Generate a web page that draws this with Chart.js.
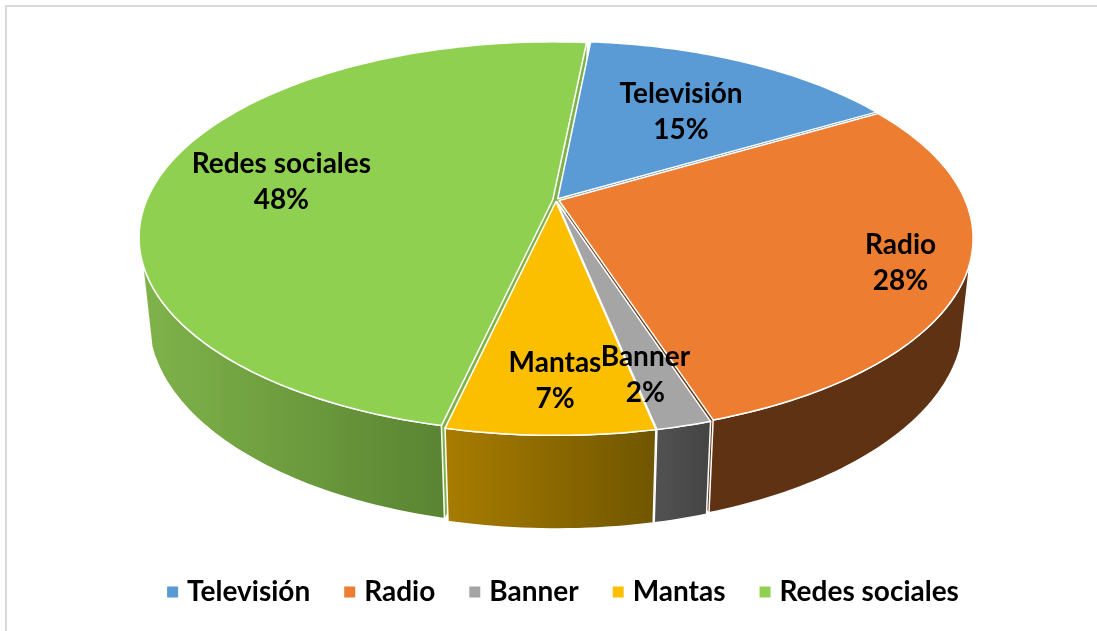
<!DOCTYPE html>
<html>
<head>
<meta charset="utf-8">
<title>Medios</title>
<script src="https://cdn.jsdelivr.net/npm/chart.js@4/dist/chart.umd.js"></script>
<style>
  html, body { margin: 0; background: #fff; }
  canvas { display: block; }
</style>
</head>
<body>
<canvas id="pie3d" width="1097" height="631"></canvas>
<script>
const categories = ['Televisión', 'Radio', 'Banner', 'Mantas', 'Redes sociales'];
const values = [15, 28.45, 1.8, 6.75, 48];
const percentLabels = ['15%', '28%', '2%', '7%', '48%'];

const topColors = ['#5b9bd5', '#ed7d31', '#a5a5a5', '#fcbf00', '#8fd050'];
const wallLeft = ['#3a6d9c', '#5f3214', '#525252', '#a87c00', '#7fb34a'];
const wallRight = ['#3a6d9c', '#5f3214', '#444444', '#705600', '#5a8432'];
// how far out from the center each label sits, 1 = rim
const labelDist = [0.63, 0.855, 0.80, 0.80, 0.70];
// degrees the label is turned away from the slice's middle
const labelTurn = [0, 0, 1.2, -0.5, 0];

const FONT = 'Lato, "Open Sans", sans-serif';
const LABEL_SIZE = 28;

// perspective of the tilted disc
const view = { cx: 556, cy: 200, c: 406, b: 188.3, a: 0.192, h: 0.0222, vx: 556, vy: 3930 };
const EXPLODE = 0.008;

function project(ux, uy, lower) {
  const w = 1 - view.a * uy;
  let x = view.cx + view.c * ux / w;
  let y = view.cy + view.b * uy / w;
  if (lower) {
    const k = view.h / (w + view.h);
    x += (view.vx - x) * k;
    y += (view.vy - y) * k;
  }
  return { x, y };
}

function nudge(arc) {
  const mid = (arc.startAngle + arc.endAngle) / 2;
  return { dx: Math.cos(mid) * EXPLODE, dy: Math.sin(mid) * EXPLODE };
}

function rimPoints(arc, from, to, lower) {
  const { dx, dy } = nudge(arc);
  const pts = [];
  const steps = Math.max(2, Math.ceil((to - from) / 0.02));
  for (let i = 0; i <= steps; i++) {
    const t = from + (to - from) * i / steps;
    pts.push(project(Math.cos(t) + dx, Math.sin(t) + dy, lower));
  }
  return pts;
}

function tracePoly(ctx, pts) {
  ctx.beginPath();
  pts.forEach((p, i) => (i ? ctx.lineTo(p.x, p.y) : ctx.moveTo(p.x, p.y)));
  ctx.closePath();
}

// top face of each slice, still drawn by the library's arc element
Chart.ArcElement.prototype.draw = function (ctx) {
  const { dx, dy } = nudge(this);
  const pts = [project(dx, dy, false)].concat(rimPoints(this, this.startAngle, this.endAngle, false));
  tracePoly(ctx, pts);
  ctx.fillStyle = this.options.backgroundColor;
  ctx.fill();
  ctx.strokeStyle = '#fff';
  ctx.lineWidth = 1.5;
  ctx.lineJoin = 'round';
  ctx.stroke();
};

const walls = {
  id: 'walls',
  beforeDatasetsDraw(chart) {
    const ctx = chart.ctx;
    const arcs = chart.getDatasetMeta(0).data;
    const lo = 18 * Math.PI / 180;
    const hi = 162 * Math.PI / 180;
    ctx.save();
    // cut faces, seen through the gaps between slices
    arcs.forEach((arc, i) => {
      const { dx, dy } = nudge(arc);
      [arc.startAngle, arc.endAngle].forEach(t => {
        const ux = Math.cos(t) + dx, uy = Math.sin(t) + dy;
        tracePoly(ctx, [project(dx, dy, false), project(ux, uy, false), project(ux, uy, true), project(dx, dy, true)]);
        ctx.fillStyle = wallLeft[i];
        ctx.fill();
      });
    });
    // outer walls, front half only
    arcs.forEach((arc, i) => {
      const from = Math.max(arc.startAngle, lo);
      const to = Math.min(arc.endAngle, hi);
      if (from >= to) return;
      const upper = rimPoints(arc, from, to, false);
      const lower = rimPoints(arc, from, to, true);
      const xs = upper.concat(lower).map(p => p.x);
      const g = ctx.createLinearGradient(Math.min(...xs), 0, Math.max(...xs), 0);
      g.addColorStop(0, wallLeft[i]);
      g.addColorStop(1, wallRight[i]);
      tracePoly(ctx, upper.concat(lower.reverse()));
      ctx.fillStyle = g;
      ctx.fill();
      ctx.strokeStyle = '#fff';
      ctx.lineWidth = 1.5;
      ctx.stroke();
    });
    ctx.restore();
  }
};

const sliceLabels = {
  id: 'sliceLabels',
  afterDatasetsDraw(chart) {
    const ctx = chart.ctx;
    ctx.save();
    ctx.fillStyle = '#000';
    ctx.font = `bold ${LABEL_SIZE}px ${FONT}`;
    ctx.textAlign = 'center';
    ctx.textBaseline = 'middle';
    chart.getDatasetMeta(0).data.forEach((arc, i) => {
      const mid = (arc.startAngle + arc.endAngle) / 2 + labelTurn[i] * Math.PI / 180;
      const p = project(Math.cos(mid) * labelDist[i], Math.sin(mid) * labelDist[i], false);
      ctx.fillText(categories[i], p.x, p.y - 15.5);
      ctx.fillText(percentLabels[i], p.x, p.y + 20.5);
    });
    ctx.restore();
  }
};

const frame = {
  id: 'frame',
  beforeDraw(chart) {
    const ctx = chart.ctx;
    ctx.save();
    ctx.fillStyle = '#d9d9d9';
    ctx.fillRect(5, 5, chart.width - 5, 2);
    ctx.fillRect(5, 5, 2, chart.height - 5);
    ctx.restore();
  }
};

new Chart(document.getElementById('pie3d'), {
  type: 'pie',
  data: {
    labels: categories,
    datasets: [{ data: values, backgroundColor: topColors, borderWidth: 0 }]
  },
  options: {
    responsive: false,
    animation: false,
    rotation: 5.6,
    layout: { padding: { bottom: 15, left: 34 } },
    plugins: {
      tooltip: { enabled: false },
      legend: {
        position: 'bottom',
        labels: {
          usePointStyle: true,
          pointStyle: 'rect',
          boxWidth: 1,
          boxHeight: 11,
          padding: 39,
          color: '#000',
          font: { family: FONT, size: LABEL_SIZE, weight: 'bold' }
        }
      }
    }
  },
  plugins: [frame, walls, sliceLabels]
});
</script>
</body>
</html>
